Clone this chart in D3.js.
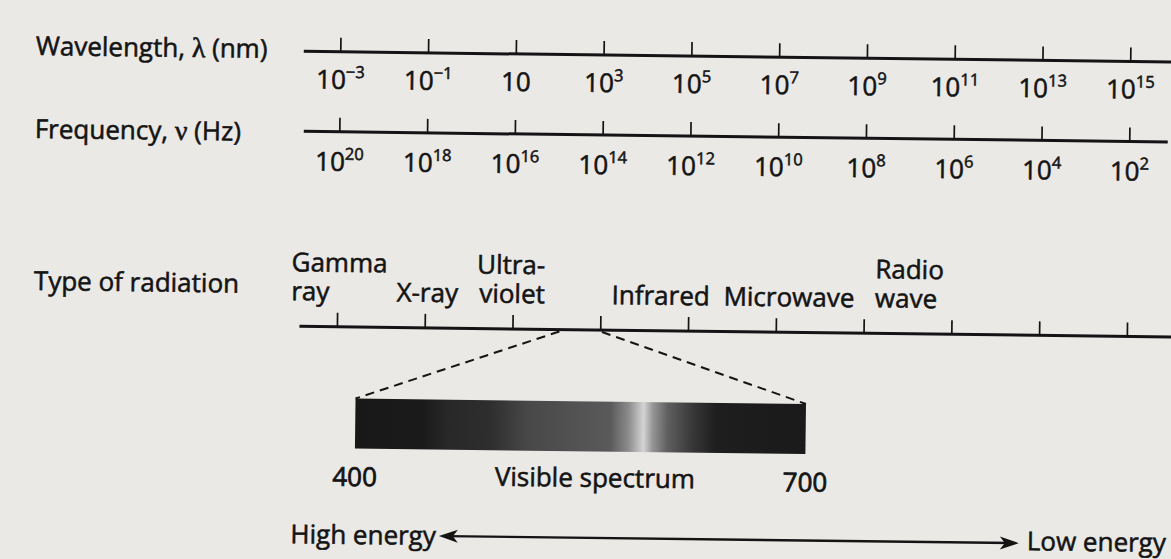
<!DOCTYPE html>
<html><head><meta charset="utf-8">
<script src="https://cdn.jsdelivr.net/npm/d3@7"></script>
<style>
body{margin:0;background:#ebe9e6;}
svg text{font-family:"Open Sans",sans-serif;fill:#141414;stroke:#141414;stroke-width:0.55px;}
</style>
</head><body>
<svg id="c" width="1171" height="559"></svg>
<script>
// ---------- data ----------
const wavelengthExponents = [-3, -1, 1, 3, 5, 7, 9, 11, 13, 15];     // λ = 10^e nm
const frequencyExponents  = [20, 18, 16, 14, 12, 10, 8, 6, 4, 2];    // ν = 10^e Hz
const radiationTickExponents = [-3, -1, 1, 3, 5, 7, 9, 11, 13, 15];
const radiationNames = [["Gamma", "ray"], [null, "X-ray"], ["Ultra-", "violet"],
                        [null, "Infrared"], [null, "Microwave"], ["Radio", "wave"]];
const radiationEdges = [-4.05, -1.65, 1.73, 3.25, 5.8, 9.25];        // λ exponent where each label sits
const radiationAnchors = ["start", "start", "end", "start", "start", "start"];
const visibleBand = [2.07, 3.04];                                     // λ exponents joined to the inset
const visibleRange = [400, 700];                                      // nm
const visibleTitle = "Visible spectrum";
const spectrumNm    = [400, 445, 462, 490, 515, 545, 570, 582, 592, 598, 608, 625, 640, 700];
const spectrumGrey  = [ 24,  26,  40,  46,  72,  82,  90, 140, 212, 150,  95,  55,  30,  26];
const rowTitles = ["Wavelength, ", "λ", " (nm)"];
const freqTitle = ["Frequency, ", "ν", " (Hz)"];
const typeTitle = "Type of radiation";
const energyLabels = ["High energy", "Low energy"];

// ---------- drawing ----------
const W = 1171, H = 559, INK = "#141414", FS = 26, SUP = 16.5;
const svg = d3.select("#c");
svg.append("rect").attr("width", W).attr("height", H).attr("fill", "#ebe9e6");
const g = svg.append("g").attr("transform", "rotate(0.7,600,280)");

const x  = d3.scaleLinear().domain([-3, 15]).range([337.5, 1127.5]);
const xf = d3.scaleLinear().domain([20, 2]).range([337.5, 1127.5]);
const xv = d3.scaleLinear().domain(visibleRange).range([357, 807.5]);

const ROW_W = 55, ROW_F = 135, ROW_R = 330;

function fmtExp(e) { return e < 0 ? "\u2212" + (-e) : String(e); }

function drawAxis(scale, vals, y, x1, x2, labelDy) {
  g.append("line").attr("x1", x1).attr("x2", x2).attr("y1", y).attr("y2", y)
    .attr("stroke", INK).attr("stroke-width", 3);
  const ax = g.append("g").attr("transform", `translate(0,${y})`)
    .call(d3.axisBottom(scale).tickValues(vals).tickSize(-14).tickSizeOuter(0));
  ax.select(".domain").remove();
  ax.attr("font-size", FS).attr("font-family", "Open Sans");
  ax.selectAll(".tick line").attr("stroke", INK).attr("stroke-width", 1.7);
  const t = ax.selectAll(".tick text");
  if (labelDy == null) { t.remove(); return; }
  t.attr("y", labelDy).attr("dy", null).attr("fill", INK)
    .each(function (d) {
      const s = d3.select(this);
      s.text("10");
      if (d !== 1) s.append("tspan").attr("dy", -11).attr("font-size", SUP).text(fmtExp(d));
    });
}

drawAxis(x, wavelengthExponents, ROW_W, 301, 1200, 37);
drawAxis(xf, frequencyExponents, ROW_F, 302, 1166, 39);
drawAxis(x, radiationTickExponents, ROW_R, 300, 1200, null);

// row titles
function title(parts, y) {
  const t = g.append("text").attr("x", 33).attr("y", y).attr("font-size", FS);
  parts.forEach((p, i) => {
    const sp = t.append("tspan").text(p);
    if (i === 1) sp.attr("font-family", "Liberation Serif").attr("font-size", 28);
  });
}
title(rowTitles, 62);
title(freqTitle, 145);
g.append("text").attr("x", 34).attr("y", 297).attr("font-size", FS).text(typeTitle);

// radiation type labels (one text element per type, lines as tspans)
const rows = [275, 304];
radiationNames.forEach((lines, i) => {
  const t = g.append("text").attr("text-anchor", radiationAnchors[i]).attr("font-size", FS);
  lines.forEach((txt, r) => {
    if (!txt) return;
    t.append("tspan").attr("x", x(radiationEdges[i])).attr("y", rows[r]).text(txt);
  });
});

// dashed connectors
const BAR_TOP = 401.5, BAR_H = 50;
[[visibleBand[0], visibleRange[0]], [visibleBand[1], visibleRange[1]]].forEach(([e, nm]) => {
  g.append("line").attr("x1", x(e)).attr("y1", ROW_R + 2).attr("x2", xv(nm)).attr("y2", BAR_TOP)
    .attr("stroke", INK).attr("stroke-width", 2).attr("stroke-dasharray", "9,6");
});

// spectrum gradient
const defs = svg.append("defs");
const grad = defs.append("linearGradient").attr("id", "spec").attr("x1", 0).attr("x2", 1).attr("y1", 0).attr("y2", 0);
spectrumNm.forEach((nm, i) => {
  const v = spectrumGrey[i];
  grad.append("stop").attr("offset", (nm - visibleRange[0]) / (visibleRange[1] - visibleRange[0]))
    .attr("stop-color", d3.rgb(v, v, v));
});
g.append("rect").attr("x", xv(visibleRange[0])).attr("y", BAR_TOP)
  .attr("width", xv(visibleRange[1]) - xv(visibleRange[0])).attr("height", BAR_H)
  .attr("fill", "url(#spec)");

visibleRange.forEach(nm => {
  g.append("text").attr("x", xv(nm)).attr("y", 489).attr("text-anchor", "middle")
    .attr("font-size", FS).style("stroke-width", "0.75px").text(nm);
});
g.append("text").attr("x", xv(560)).attr("y", 487).attr("text-anchor", "middle")
  .attr("font-size", FS).text(visibleTitle);

// energy arrow with explicit heads
const AY = 538, AX1 = 442, AX2 = 1022, HL = 19, HW = 6.5;
g.append("line").attr("x1", AX1 + 8).attr("x2", AX2 - 8).attr("y1", AY).attr("y2", AY)
  .attr("stroke", INK).attr("stroke-width", 2.4);
g.append("path").attr("fill", INK)
  .attr("d", `M${AX1},${AY}L${AX1 + HL},${AY - HW}L${AX1 + HL - 5},${AY}L${AX1 + HL},${AY + HW}Z`);
g.append("path").attr("fill", INK)
  .attr("d", `M${AX2},${AY}L${AX2 - HL},${AY - HW}L${AX2 - HL + 5},${AY}L${AX2 - HL},${AY + HW}Z`);
g.append("text").attr("x", AX1 - 3).attr("y", 547).attr("text-anchor", "end").attr("font-size", FS).text(energyLabels[0]);
g.append("text").attr("x", AX2 + 8).attr("y", 545).attr("font-size", FS).text(energyLabels[1]);
</script>
</body></html>
